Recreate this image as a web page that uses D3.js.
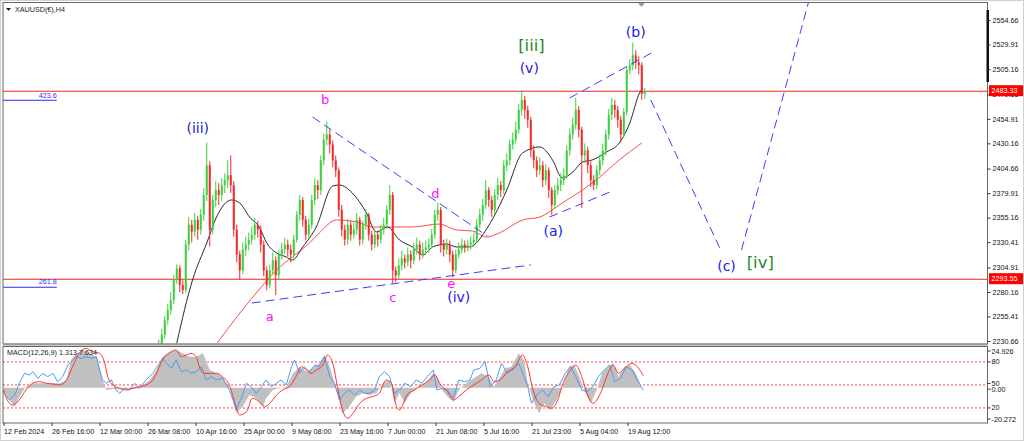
<!DOCTYPE html>
<html><head><meta charset="utf-8">
<script src="https://cdn.jsdelivr.net/npm/d3@7"></script>
<style>
body{margin:0;background:#fff;}
svg{display:block;font-family:"Liberation Sans",Arial,sans-serif;}
</style>
</head><body>
<svg id="c" width="1024" height="441"></svg>
<script>
// ---------- DATA ----------
const chartTitle = "XAUUSD(€),H4";
const macdTitle = "MACD(12,26,9) 1.313 7.634";
const priceTicks = [2554.66,2529.91,2505.16,2479.66,2454.91,2430.16,2404.66,2379.91,2355.16,2330.41,2304.91,2280.16,2255.41,2230.66];
const priceDomain = [2230.66, 2554.66];
const xTickLabels = ["12 Feb 2024","26 Feb 16:00","12 Mar 00:00","26 Mar 08:00","10 Apr 16:00","25 Apr 00:00","9 May 08:00","23 May 16:00","7 Jun 00:00","21 Jun 08:00","5 Jul 16:00","21 Jul 23:00","5 Aug 04:00","19 Aug 12:00"];
const xTickBars = [0,64,128,192,256,320,384,448,512,576,640,704,768,832];
const barDomain = [0, 1312];
const candleStartBar = 205, barsPerCandle = 4;

const open = [2222,2227,2237,2252,2262,2272,2292,2304,2287,2282,
2328,2348,2341,2353,2343,2358,2378,2408,2343,2373,
2383,2378,2388,2393,2398,2388,2343,2318,2302,2323,
2328,2333,2338,2348,2343,2328,2302,2287,2302,2312,
2297,2318,2323,2328,2323,2318,2333,2358,2373,2353,
2338,2348,2373,2388,2383,2413,2434,2439,2429,2413,
2403,2363,2343,2333,2348,2338,2343,2353,2333,2348,
2358,2338,2328,2338,2333,2343,2348,2363,2378,2302,
2297,2307,2314,2310,2318,2312,2323,2328,2318,2323,
2325,2328,2338,2358,2363,2328,2323,2328,2318,2302,
2318,2323,2328,2325,2328,2330,2333,2348,2358,2368,
2383,2373,2363,2378,2388,2383,2408,2413,2429,2434,
2444,2464,2474,2464,2454,2423,2413,2403,2408,2393,
2403,2383,2368,2383,2388,2393,2398,2423,2439,2449,
2464,2444,2418,2423,2408,2393,2388,2403,2413,2423,
2439,2459,2469,2464,2454,2439,2462,2504,2509,2519,
2512,2509,2480];
const high = [2232,2243,2256,2268,2280,2297,2308,2307,2292,2333,
2356,2353,2360,2357,2364,2385,2431,2412,2378,2392,
2390,2395,2400,2413,2418,2392,2348,2322,2330,2336,
2340,2346,2355,2352,2347,2332,2306,2308,2320,2316,
2322,2330,2335,2333,2328,2338,2362,2378,2376,2357,
2354,2378,2395,2393,2418,2440,2452,2444,2433,2418,
2406,2368,2348,2354,2352,2350,2360,2356,2352,2364,
2360,2342,2344,2342,2348,2355,2368,2388,2381,2306,
2314,2322,2318,2325,2322,2330,2335,2332,2330,2332,
2334,2344,2363,2370,2366,2333,2334,2332,2322,2323,
2330,2334,2332,2333,2336,2340,2354,2364,2374,2393,
2386,2377,2384,2395,2392,2413,2420,2434,2441,2452,
2470,2484,2478,2468,2457,2428,2417,2416,2412,2409,
2406,2386,2388,2395,2400,2405,2428,2445,2456,2476,
2468,2447,2430,2427,2412,2398,2408,2419,2430,2444,
2465,2476,2474,2468,2458,2466,2508,2515,2532,2524,
2518,2512,2486];
const low = [2215,2224,2233,2247,2257,2268,2288,2280,2278,2279,
2322,2330,2336,2333,2338,2352,2372,2326,2338,2366,
2368,2372,2380,2385,2380,2336,2310,2292,2298,2316,
2322,2328,2333,2335,2320,2296,2282,2284,2298,2277,
2292,2313,2318,2316,2310,2314,2330,2352,2346,2332,
2334,2344,2368,2374,2378,2408,2428,2420,2406,2396,
2356,2336,2327,2328,2332,2334,2338,2327,2328,2343,
2332,2322,2324,2326,2329,2338,2344,2358,2289,2290,
2293,2302,2304,2306,2304,2308,2318,2312,2314,2318,
2320,2324,2334,2352,2320,2316,2318,2310,2295,2299,
2314,2319,2320,2321,2323,2326,2330,2344,2352,2364,
2366,2356,2358,2373,2376,2379,2402,2408,2424,2430,
2440,2458,2455,2446,2416,2405,2396,2398,2386,2388,
2375,2358,2364,2378,2382,2388,2394,2418,2434,2444,
2436,2365,2410,2400,2386,2383,2384,2398,2408,2418,
2434,2454,2456,2446,2431,2436,2458,2500,2504,2505,
2500,2474,2475];
const close = [2227,2237,2252,2262,2272,2292,2304,2287,2282,2328,
2348,2341,2353,2343,2358,2378,2408,2343,2373,2383,
2378,2388,2393,2398,2388,2343,2318,2302,2323,2328,
2333,2338,2348,2343,2328,2302,2287,2302,2312,2297,
2318,2323,2328,2323,2318,2333,2358,2373,2353,2338,
2348,2373,2388,2383,2413,2434,2439,2429,2413,2403,
2363,2343,2333,2348,2338,2343,2353,2333,2348,2358,
2338,2328,2338,2333,2343,2348,2363,2378,2302,2297,
2307,2314,2310,2318,2312,2323,2328,2318,2323,2325,
2328,2338,2358,2363,2328,2323,2328,2318,2302,2318,
2323,2328,2325,2328,2330,2333,2348,2358,2368,2383,
2373,2363,2378,2388,2383,2408,2413,2429,2434,2444,
2464,2474,2464,2454,2423,2413,2403,2408,2393,2403,
2383,2368,2383,2388,2393,2398,2423,2439,2449,2464,
2444,2418,2423,2408,2393,2388,2403,2413,2423,2439,
2459,2469,2464,2454,2439,2462,2504,2509,2519,2512,
2509,2480,2483];

// moving averages [bar, price]
const maBlack = [[231,2228.6],[252,2292.2],[271,2329.6],[284,2355.8],[304,2373.0],[315,2369.9],[328,2355.8],[341,2345.7],[351,2329.6],[364,2319.5],[377,2315.5],[385,2312.4],[399,2325.6],[417,2345.7],[439,2387.1],[448,2388.1],[465,2380.1],[484,2359.8],[497,2340.7],[512,2345.7],[528,2332.6],[545,2325.6],[559,2317.5],[572,2325.6],[581,2327.6],[591,2328.6],[604,2325.6],[621,2325.6],[645,2344.7],[655,2357.8],[671,2383.1],[692,2420.4],[715,2426.5],[732,2413.4],[745,2395.2],[759,2401.2],[772,2411.3],[785,2413.4],[804,2421.4],[821,2430.5],[835,2450.7],[848,2481.0],[852,2486.0]];
const maRed = [[285,2228.6],[311,2254.9],[337,2279.1],[364,2302.3],[385,2315.5],[408,2329.6],[421,2339.7],[444,2352.8],[471,2350.8],[492,2345.7],[515,2345.7],[545,2345.7],[581,2348.7],[604,2342.7],[625,2341.7],[644,2335.6],[661,2339.7],[692,2352.8],[715,2355.8],[745,2370.0],[772,2383.1],[795,2396.2],[821,2413.4],[851,2430.5]];

const hLines = [2483.33, 2293.55];
const fibLabels = ["423.6", "261.8"];
const fibPrices = [2473.9, 2285.2];
const fibEndBar = 71;

// dashed wave lines: [[bar, price],[bar, price]]
const trendLines = [
  [[412,2456.8],[645,2336.6]],
  [[331,2269.0],[703,2307.4]],
  [[755,2476.0],[864,2521.4]],
  [[728,2355.8],[812,2382.1]],
  [[863,2473.9],[955,2324.5]],
  [[984,2322.5],[1076,2580.0]]
];

// wave labels [text, bar, price]
const blueLabels = [["(iii)",259,2445.6],["(iv)",607,2275.0],["(v)",701,2506.0],["(a)",733,2341.7],["(b)",843,2542.6],["(c)",964,2306.4]];
const magentaLabels = [["a",355,2255.0],["b",429,2474.0],["c",519,2275.0],["d",576,2380.0],["e",597,2289.0]];
const greenLabels = [["[iii]",704,2529.4],["[iv]",1009,2309.4]];

// MACD pane [bar, value]
const macdRange = [-20.272, 24.926];
const macdHist = [[0,-1.4],[8,-7.7],[15,-11.9],[21,-5.6],[30,0.6],[39,2.8],[57,2.8],[75,2.8],[84,4.8],[90,17.4],[97,21.6],[106,23.7],[115,21.6],[124,19.5],[128,13.2],[132,4.8],[137,-1.4],[146,-0.8],[172,-0.8],[181,-0.4],[195,4.8],[204,11.1],[212,19.5],[221,22.6],[230,23.7],[239,21.6],[248,19.5],[257,19.5],[266,21.6],[275,11.1],[284,9.0],[292,6.9],[301,0.6],[306,-5.6],[310,-16.1],[319,-11.9],[328,-4.6],[337,-6.7],[346,-11.9],[350,-6.7],[359,-1.4],[368,-0.4],[377,0.6],[386,9.0],[395,13.2],[404,10.0],[412,12.2],[421,15.3],[428,20.5],[435,13.2],[444,-1.4],[452,-16.1],[461,-11.9],[470,-5.6],[479,-3.5],[488,-4.6],[497,-3.5],[506,2.8],[515,4.8],[521,-9.8],[528,-3.5],[535,-9.8],[543,-3.5],[553,0.6],[563,2.8],[573,9.0],[578,6.9],[585,-1.4],[592,-5.6],[600,-8.8],[607,-1.4],[617,2.8],[627,5.9],[637,9.0],[647,6.9],[654,0.6],[662,6.9],[669,12.2],[677,13.2],[687,21.6],[694,17.4],[699,2.8],[706,-7.7],[714,-16.1],[721,-9.8],[729,-14.0],[736,-8.8],[746,0.6],[754,13.2],[761,14.2],[768,6.9],[776,-3.5],[783,-9.8],[791,-1.4],[798,9.0],[806,13.2],[813,15.3],[820,6.9],[828,13.2],[835,14.2],[843,9.0],[850,1.3]];
const macdSignal = [[0,-1.4],[4,-6.7],[12,-10.9],[21,-7.7],[30,-1.4],[39,2.8],[48,3.8],[57,2.8],[66,2.3],[75,1.7],[84,4.8],[92,13.2],[101,21.6],[110,24.7],[119,22.6],[128,21.6],[135,15.3],[139,6.9],[146,1.7],[155,-0.4],[164,-1.4],[172,-0.4],[181,0.6],[190,1.7],[199,4.8],[206,11.1],[212,17.4],[221,21.6],[230,23.7],[237,19.5],[244,20.5],[250,21.6],[257,19.5],[261,13.2],[268,9.0],[275,9.0],[284,9.0],[292,6.9],[301,1.7],[306,-5.6],[310,-11.9],[315,-17.1],[324,-15.1],[332,-6.7],[341,-8.8],[348,-11.9],[355,-9.8],[364,-4.6],[372,-1.4],[381,0.6],[390,6.9],[397,13.2],[404,11.1],[410,9.0],[417,11.1],[426,14.2],[432,20.5],[439,15.3],[446,-1.4],[452,-14.0],[459,-19.2],[466,-16.1],[475,-9.8],[484,-6.7],[492,-5.6],[501,-3.5],[510,4.8],[517,2.8],[524,-11.9],[528,-14.0],[538,-4.6],[548,-1.4],[558,1.7],[568,4.8],[575,8.0],[583,1.7],[592,-2.5],[600,-7.7],[607,-5.6],[617,-1.4],[627,1.7],[637,4.8],[647,8.0],[654,3.8],[662,4.8],[672,10.0],[682,13.2],[692,20.5],[699,13.2],[706,-1.4],[714,-9.8],[724,-11.9],[731,-12.9],[739,-7.7],[746,2.8],[756,11.1],[763,14.2],[771,6.9],[778,-3.5],[786,-9.8],[796,-3.5],[806,9.0],[813,14.2],[820,9.0],[828,12.2],[838,15.3],[845,13.2],[853,7.6]];
const oscLine = [[0,43.4],[1,39.1],[8,30.4],[15,36.9],[21,52.2],[28,65.2],[35,63.0],[39,67.3],[46,58.7],[52,65.2],[59,60.8],[66,65.2],[72,54.2],[79,60.8],[86,76.0],[90,80.3],[97,86.8],[104,84.7],[110,86.8],[117,84.7],[124,86.8],[128,69.5],[132,56.5],[137,52.2],[144,56.5],[150,43.4],[155,39.1],[161,45.6],[168,43.4],[175,52.2],[181,45.6],[190,56.5],[199,65.2],[208,78.2],[212,84.7],[217,78.2],[224,71.7],[230,82.5],[237,67.3],[244,69.5],[250,65.2],[257,67.3],[264,73.8],[270,56.5],[277,60.8],[284,56.5],[292,58.7],[301,43.4],[306,30.4],[310,17.3],[317,32.6],[324,52.2],[330,47.7],[337,39.1],[344,47.7],[350,56.5],[357,47.7],[364,52.2],[370,56.5],[377,50],[384,73.8],[388,82.5],[395,65.2],[401,73.8],[408,67.3],[415,76.0],[421,73.8],[428,86.8],[435,60.8],[441,52.2],[448,30.4],[455,39.1],[461,43.4],[468,36.9],[475,43.4],[481,39.1],[488,39.1],[495,43.4],[501,60.8],[508,67.3],[515,60.8],[521,39.1],[528,43.4],[535,52.2],[543,47.7],[550,56.5],[558,52.2],[565,60.8],[573,69.5],[578,43.4],[585,45.6],[592,43.4],[600,32.6],[607,56.5],[615,54.2],[622,56.5],[627,69.5],[635,71.7],[642,80.3],[649,47.7],[657,56.5],[664,78.2],[672,65.2],[679,69.5],[687,78.2],[694,60.8],[699,47.7],[704,26.1],[711,36.9],[719,43.4],[726,34.7],[734,47.7],[741,50],[749,65.2],[756,73.8],[763,60.8],[771,43.4],[778,41.2],[786,47.7],[793,60.8],[801,69.5],[808,76.0],[815,54.2],[823,58.7],[830,73.8],[838,69.5],[845,56.5],[853,43.4]];
const oscLevels = [80, 50, 20];

// ---------- LAYOUT ----------
const L = 3, R = 987.5, mainTop = 2.5, mainBot = 344, subTop = 346.5, subBot = 423;
const svg = d3.select("#c");
const x = d3.scaleLinear().domain(barDomain).range([3.5, 3.5 + 0.75*barDomain[1]]);
const y = d3.scaleLinear().domain(priceDomain).range([341, 20]);
const ym = d3.scaleLinear().domain(macdRange).range([420, 348]);
const yo = d3.scaleLinear().domain([0,100]).range([423.3, 346.6]);

svg.append("rect").attr("x",0.5).attr("y",0.5).attr("width",1023).attr("height",440).attr("fill","#fff").attr("stroke","#d0d0d0");

const defs = svg.append("defs");
defs.append("clipPath").attr("id","cm").append("rect").attr("x",L).attr("y",mainTop).attr("width",R-L).attr("height",mainBot-mainTop);
defs.append("clipPath").attr("id","cs").append("rect").attr("x",L).attr("y",subTop).attr("width",R-L).attr("height",subBot-subTop);

const gm = svg.append("g").attr("clip-path","url(#cm)");
const gs = svg.append("g").attr("clip-path","url(#cs)");

// horizontal red lines
gm.append("g").attr("class","hlines").selectAll(null).data(hLines).enter().append("line")
  .attr("x1",L).attr("x2",R).attr("y1",d=>Math.round(y(d))+0.25).attr("y2",d=>Math.round(y(d))+0.25)
  .attr("stroke","#ff2020").attr("stroke-width",1);

// fib short lines + labels
const gf = gm.append("g").attr("class","fib");
gf.selectAll(null).data(fibPrices).enter().append("line")
  .attr("x1",L).attr("x2",x(fibEndBar)).attr("y1",d=>Math.round(y(d))+0.25).attr("y2",d=>Math.round(y(d))+0.25)
  .attr("stroke","#2a2aff").attr("stroke-width",1);
gf.selectAll(null).data(fibPrices).enter().append("text")
  .attr("x",x(fibEndBar)).attr("y",d=>y(d)-2.5).attr("text-anchor","end")
  .attr("font-size","7.2px").attr("fill","#3030ff").text((d,i)=>fibLabels[i]);

// moving averages
const line = d3.line().x(d=>x(d[0])).y(d=>y(d[1])).curve(d3.curveMonotoneX);
gm.append("path").attr("d",line(maRed)).attr("fill","none").attr("stroke","#ff4a4a").attr("stroke-width",1);
gm.append("path").attr("d",line(maBlack)).attr("fill","none").attr("stroke","#2a2a2a").attr("stroke-width",1);

// candles
const candles = close.map((c,i)=>({bar:candleStartBar+i*barsPerCandle+barsPerCandle/2, o:open[i], h:high[i], l:low[i], c:c}));
const col = d=> d.c>=d.o ? "#3fcf3f" : "#f22a2a";
const gc = gm.append("g").attr("class","candles");
gc.selectAll(null).data(candles).enter().append("rect")
  .attr("x",d=>x(d.bar)-0.5).attr("width",1)
  .attr("y",d=>y(d.h)).attr("height",d=>Math.max(1,y(d.l)-y(d.h)))
  .attr("fill",col);
gc.selectAll(null).data(candles).enter().append("rect")
  .attr("x",d=>x(d.bar)-1).attr("width",2)
  .attr("y",d=>y(Math.max(d.o,d.c))).attr("height",d=>Math.max(1,Math.abs(y(d.o)-y(d.c))))
  .attr("fill",col);

// dashed wave lines
gm.append("g").attr("class","waves").selectAll(null).data(trendLines).enter().append("line")
  .attr("x1",d=>x(d[0][0])).attr("y1",d=>y(d[0][1])).attr("x2",d=>x(d[1][0])).attr("y2",d=>y(d[1][1]))
  .attr("stroke","#3d3dff").attr("stroke-width",1).attr("stroke-dasharray","9,5");

// wave labels
function labels(arr, color, size){
  gm.append("g").selectAll(null).data(arr).enter().append("text")
    .attr("x",d=>x(d[1])).attr("y",d=>y(d[2])).attr("text-anchor","middle").attr("dominant-baseline","central")
    .attr("font-family","DejaVu Sans, sans-serif").attr("font-size",size).attr("fill",color).text(d=>d[0]);
}
labels(blueLabels,"#2020e6","14px");
labels(magentaLabels,"#ff10ff","13px");
labels(greenLabels,"#1f8a1f","16.5px");

// ---------- MACD pane ----------
gs.append("g").selectAll(null).data(oscLevels).enter().append("line")
  .attr("x1",L).attr("x2",R).attr("y1",d=>yo(d)).attr("y2",d=>yo(d))
  .attr("stroke","#ff4040").attr("stroke-width",1).attr("stroke-dasharray","2,2");
const area = d3.area().x(d=>x(d[0])).y0(ym(0)).y1(d=>ym(d[1]));
gs.append("path").attr("d",area(macdHist)).attr("fill","#c0c0c0");
const lineM = d3.line().x(d=>x(d[0])).y(d=>ym(d[1])).curve(d3.curveMonotoneX);
const lineO = d3.line().x(d=>x(d[0])).y(d=>yo(d[1]));
gs.append("path").attr("d",lineO(oscLine)).attr("fill","none").attr("stroke","#4a9df2").attr("stroke-width",1);
gs.append("path").attr("d",lineM(macdSignal)).attr("fill","none").attr("stroke","#ff3333").attr("stroke-width",1);

// ---------- frames ----------
svg.append("rect").attr("x",L).attr("y",mainTop).attr("width",R-L).attr("height",mainBot-mainTop).attr("fill","none").attr("stroke","#666");
svg.append("rect").attr("x",L).attr("y",343.5).attr("width",R-L).attr("height",2).attr("fill","#9a9a9a");
svg.append("rect").attr("x",L).attr("y",subTop).attr("width",R-L).attr("height",subBot-subTop).attr("fill","none").attr("stroke","#666");
svg.append("rect").attr("x",R-1).attr("y",10).attr("width",2.5).attr("height",72).attr("fill","#111");
svg.append("path").attr("d",`M${x(846)},3 L${x(855)},3 L${x(850.5)},7 Z`).attr("fill","#999");

// title texts
svg.append("path").attr("d","M6,8 L11,8 L8.5,11 Z").attr("fill","#222");
svg.append("text").attr("x",15).attr("y",12).attr("font-size","7.2px").attr("fill","#222").text(chartTitle);
svg.append("text").attr("x",7).attr("y",355).attr("font-size","7.2px").attr("fill","#222").text(macdTitle);

// ---------- axes ----------
const ay = svg.append("g").attr("transform",`translate(${R},0)`)
  .call(d3.axisRight(y).tickValues(priceTicks).tickSize(3).tickPadding(2).tickFormat(d=>d.toFixed(2)));
ay.select(".domain").remove();
ay.selectAll(".tick text").attr("font-size","7.2px").attr("font-family","Liberation Sans, Arial, sans-serif").attr("fill","#111");
ay.selectAll(".tick line").attr("stroke","#333");

// price tags
const tags = svg.append("g").attr("class","tags").selectAll(null).data(hLines).enter().append("g");
tags.append("rect").attr("x",R+1.5).attr("y",d=>y(d)-5.5).attr("width",34).attr("height",11).attr("fill","#ff0000");
tags.append("text").attr("x",R+4).attr("y",d=>y(d)).attr("dominant-baseline","central")
  .attr("font-size","7.2px").attr("fill","#fff").text(d=>d.toFixed(2));

// MACD axis labels
const macdAxis = [
  {t:macdRange[1].toFixed(3), y:ym(macdRange[1])+3},
  {t:"80", y:yo(80)},
  {t:"50", y:yo(50)-1.5},
  {t:"0.00", y:ym(0)+1.5},
  {t:"20", y:yo(20)},
  {t:macdRange[0].toFixed(3), y:ym(macdRange[0])-1}
];
const gma = svg.append("g").attr("class","macdaxis");
gma.selectAll(null).data(macdAxis).enter().append("text")
  .attr("x",R+4).attr("y",d=>d.y).attr("dominant-baseline","central")
  .attr("font-size","7.2px").attr("fill","#111").text(d=>d.t);
gma.selectAll(null).data(macdAxis).enter().append("line")
  .attr("x1",R).attr("x2",R+3).attr("y1",d=>d.y).attr("y2",d=>d.y).attr("stroke","#333");

const ax = svg.append("g").attr("transform",`translate(0,${subBot})`)
  .call(d3.axisBottom(x).tickValues(xTickBars).tickSize(3).tickPadding(3).tickFormat((d,i)=>xTickLabels[i]));
ax.select(".domain").remove();
ax.selectAll(".tick text").attr("text-anchor","start").attr("font-size","7.2px").attr("font-family","Liberation Sans, Arial, sans-serif").attr("fill","#111");
ax.selectAll(".tick line").attr("stroke","#333");
</script>
</body></html>
